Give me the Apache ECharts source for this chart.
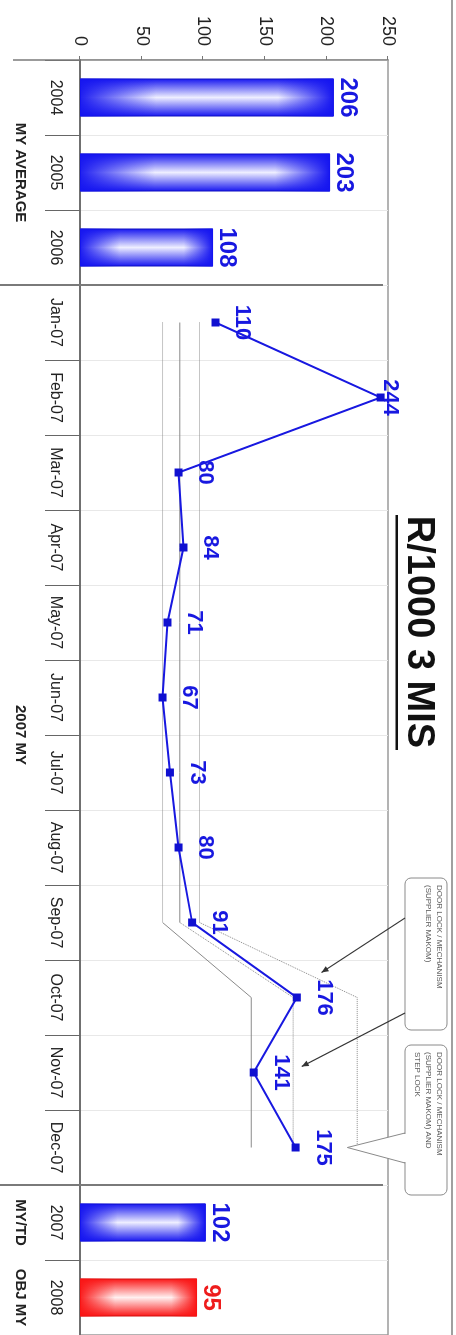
<!DOCTYPE html>
<html>
<head>
<meta charset="utf-8">
<script src="https://cdn.jsdelivr.net/npm/echarts@6/dist/echarts.min.js"></script>
<style>
  html, body { margin: 0; padding: 0; overflow: hidden; background: #fff; width: 456px; height: 1335px; }
  /* the chart is laid out landscape and turned a quarter clockwise onto the portrait page */
  #chart { position: absolute; left: 0; top: 0; width: 1335px; height: 456px;
           transform-origin: 0 0; transform: translateX(456px) rotate(90deg); }
</style>
</head>
<body>
<div id="chart"></div>
<script>
// ---- data ----
const categories = ['2004', '2005', '2006',
  'Jan-07', 'Feb-07', 'Mar-07', 'Apr-07', 'May-07', 'Jun-07',
  'Jul-07', 'Aug-07', 'Sep-07', 'Oct-07', 'Nov-07', 'Dec-07',
  '2007', '2008'];
const groupLabels = ['MY AVERAGE', '2007 MY', 'MY/TD', 'OBJ MY'];
const valueTicks = [0, 50, 100, 150, 200, 250];

const averageValues = [206, 203, 108];          // 2004-2006 model-year averages
const monthlyValues = [110, 244, 80, 84, 71, 67, 73, 80, 91, 176, 141, 175];
const ytdValue = 102;                           // 2007 MY to date
const objectiveValue = 95;                      // 2008 objective

// reference bands around the monthly trend (Jan..Dec)
const lowerEarly  = [67, 67, 67, 67, 67, 67, 67, 67, 67, null, null, null];
const lowerLate   = [null, null, null, null, null, null, null, null, 67, 139, 139, 139];
const centreEarly = [81, 81, 81, 81, 81, 81, 81, 81, 81, null, null, null];
const centreLate  = [null, null, null, null, null, null, null, null, 81, 173, 173, 173];
const upperEarly  = [97, 97, 97, 97, 97, 97, 97, 97, 97, null, null, null];
const upperLate   = [null, null, null, null, null, null, null, null, 97, 225, 225, 225];

const calloutTexts = [
  ['DOOR LOCK / MECHANISM', '(SUPPLIER MAKOM)'],
  ['DOOR LOCK / MECHANISM', '(SUPPLIER MAKOM) AND', 'STEP LOCK']
];

// ---- styling helpers ----
const FONT = "'Liberation Sans', Arial, sans-serif";
const BLUE = '#1818e0';
const RED = '#ee1c1c';

function barFill(rgb, core) {
  return new echarts.graphic.LinearGradient(0, 0, 1, 0, [
    { offset: 0, color: 'rgb(' + rgb + ')' },
    { offset: 0.5, color: core },
    { offset: 1, color: 'rgb(' + rgb + ')' }
  ]);
}
function barShade(rgb) {
  return new echarts.graphic.LinearGradient(0, 0, 0, 1, [
    { offset: 0, color: 'rgba(' + rgb + ',1)' },
    { offset: 0.22, color: 'rgba(' + rgb + ',0)' },
    { offset: 0.7, color: 'rgba(' + rgb + ',0)' },
    { offset: 1, color: 'rgba(' + rgb + ',0.95)' }
  ]);
}
const blueRGB = '20,20,240';
const redRGB = '250,20,20';

const monthPad = v => [null, null, null].concat(v, [null, null]);

const barBase = [];
const barOver = [];
averageValues.forEach(v => {
  barBase.push({ value: v, itemStyle: { color: barFill(blueRGB, '#eeeeff'), borderColor: '#1010c0' } });
  barOver.push({ value: v, itemStyle: { color: barShade(blueRGB) } });
});
monthlyValues.forEach(() => { barBase.push('-'); barOver.push('-'); });
barBase.push({ value: ytdValue, itemStyle: { color: barFill(blueRGB, '#eeeeff'), borderColor: '#1010c0' } });
barOver.push({ value: ytdValue, itemStyle: { color: barShade(blueRGB) } });
barBase.push({ value: objectiveValue, itemStyle: { color: barFill(redRGB, '#fff0f0'), borderColor: '#d01010' },
               label: { color: RED } });
barOver.push({ value: objectiveValue, itemStyle: { color: barShade(redRGB) } });

// the February peak keeps its label tucked against the plot edge
const lineData = monthPad(monthlyValues).map(v =>
  v === 244 ? { value: v, label: { distance: -6 } } : v);

function bandSeries(data, type) {
  return {
    type: 'line', data: monthPad(data), symbol: 'none', silent: true, z: 1,
    lineStyle: { color: '#8a8a8a', width: 1, type: type }
  };
}

const chart = echarts.init(document.getElementById('chart'));
chart.setOption({
  animation: false,
  backgroundColor: '#fff',
  grid: { left: 60, right: 0, top: 68, bottom: 80, show: true, borderColor: '#9a9a9a', borderWidth: 1.5 },
  xAxis: {
    type: 'category', data: categories, boundaryGap: true,
    axisLine: { lineStyle: { color: '#707070', width: 2 } },
    axisTick: { show: true, interval: 0, length: 35, lineStyle: { color: '#666', width: 1 } },
    axisLabel: { interval: 0, margin: 17, fontFamily: FONT, fontSize: 16, color: '#222' },
    splitLine: { show: true, interval: 0, lineStyle: { color: '#e8e8e8', width: 1 } }
  },
  yAxis: {
    type: 'value', min: valueTicks[0], max: valueTicks[valueTicks.length - 1], interval: 50,
    axisLine: { show: true, lineStyle: { color: '#8a8a8a', width: 1.5 } },
    axisTick: { show: true, length: 4, lineStyle: { color: '#777' } },
    axisLabel: { margin: 14, fontFamily: FONT, fontSize: 18, color: '#222' },
    splitLine: { show: false }
  },
  series: [
    {
      type: 'bar', data: barBase, barWidth: 38, barGap: '-100%', z: 2,
      itemStyle: { borderWidth: 1 },
      label: { show: true, position: 'top', distance: 2, fontFamily: FONT, fontWeight: 'bold', fontSize: 24, color: BLUE }
    },
    { type: 'bar', data: barOver, barWidth: 38, barGap: '-100%', z: 3, silent: true },
    bandSeries(lowerEarly, 'dotted'),
    bandSeries(lowerLate, 'solid'),
    bandSeries(centreEarly, 'solid'),
    bandSeries(centreLate, 'dotted'),
    bandSeries(upperEarly, 'dotted'),
    bandSeries(upperLate, 'dotted'),
    {
      type: 'line', data: lineData, z: 5,
      symbol: 'rect', symbolSize: 8,
      lineStyle: { color: BLUE, width: 2 }, itemStyle: { color: '#1010d0' },
      label: { show: true, position: 'top', distance: 12, fontFamily: FONT, fontWeight: 'bold', fontSize: 22, color: BLUE }
    }
  ]
});

// ---- annotations placed from the chart's own scales ----
const px = (i, v) => chart.convertToPixel({ xAxisIndex: 0, yAxisIndex: 0 }, [i, v]);
const cx = i => px(i, 0)[0];
const baseY = px(0, 0)[1];
const topY = px(0, 250)[1];
const boundary = i => (i === 0 ? cx(0) - (cx(1) - cx(0)) / 2 : (cx(i - 1) + cx(i)) / 2);

const graphics = [];
// group separators running through the plot and down past the labels
[3, 15].forEach(i => {
  const x = boundary(i);
  graphics.push({ type: 'line', shape: { x1: x, y1: topY + 5, x2: x, y2: 456 },
                  style: { stroke: '#7a7a7a', lineWidth: 2 }, z: 10 });
});
graphics.push({ type: 'line', shape: { x1: boundary(0), y1: baseY, x2: boundary(0), y2: 443 },
                style: { stroke: '#7a7a7a', lineWidth: 1.5 }, z: 10 });
// outer frame edge
graphics.push({ type: 'line', shape: { x1: 0, y1: 4, x2: 1335, y2: 4 },
                style: { stroke: '#a0a0a0', lineWidth: 2 }, z: 10 });

// group captions
const groupCentres = [cx(1), (cx(8) + cx(9)) / 2, cx(15), cx(16)];
groupLabels.forEach((t, k) => {
  graphics.push({ type: 'text', x: groupCentres[k], y: 436, z: 10,
    style: { text: t, font: 'bold 15px ' + FONT, fill: '#222', align: 'center', verticalAlign: 'middle' } });
});

// title with underline
graphics.push({ type: 'text', x: 632, y: 38, z: 10,
  style: { text: 'R/1000 3 MIS', font: 'bold 38px ' + FONT, fill: '#111', align: 'center', verticalAlign: 'middle' } });
graphics.push({ type: 'rect', shape: { x: 515, y: 58, width: 235, height: 2.5 }, style: { fill: '#111' }, z: 10 });

// callout boxes
function callout(x1, x2, lines) {
  graphics.push({ type: 'rect', z: 11, shape: { x: x1, y: 9, width: x2 - x1, height: 42, r: 6 },
                  style: { fill: '#fff', stroke: '#8a8a8a', lineWidth: 1 } });
  lines.forEach((t, k) => {
    graphics.push({ type: 'text', x: x1 + 7, y: 17 + k * 11, z: 12,
      style: { text: t, font: '8px ' + FONT, fill: '#555', align: 'left', verticalAlign: 'middle' } });
  });
}
function arrow(x1, y1, x2, y2) {
  graphics.push({ type: 'line', z: 11, shape: { x1: x1, y1: y1, x2: x2, y2: y2 },
                  style: { stroke: '#333', lineWidth: 1.2 } });
  const a = Math.atan2(y2 - y1, x2 - x1), L = 7, W = 3;
  const bx = x2 - L * Math.cos(a), by = y2 - L * Math.sin(a);
  graphics.push({ type: 'polygon', z: 11, shape: { points: [
      [x2, y2], [bx - W * Math.sin(a), by + W * Math.cos(a)], [bx + W * Math.sin(a), by - W * Math.cos(a)]] },
    style: { fill: '#333' } });
}
callout(878, 1030, calloutTexts[0]);
const octTip = px(12, 196), novTip = px(13, 180);
arrow(918, 51, octTip[0] - 25, octTip[1]);
arrow(1013, 51, novTip[0] - 6, novTip[1]);

// second callout with a wedge pointing at December
const decTip = px(14, 217);
graphics.push({ type: 'polygon', z: 11, shape: { points: [[1133, 51], [decTip[0], decTip[1]], [1163, 51]] },
                style: { fill: '#fff', stroke: '#8a8a8a', lineWidth: 1 } });
callout(1045, 1195, calloutTexts[1]);
graphics.push({ type: 'line', z: 13, shape: { x1: 1134, y1: 51, x2: 1162, y2: 51 },
                style: { stroke: '#fff', lineWidth: 2 } });

chart.setOption({ graphic: graphics });
</script>
</body>
</html>
